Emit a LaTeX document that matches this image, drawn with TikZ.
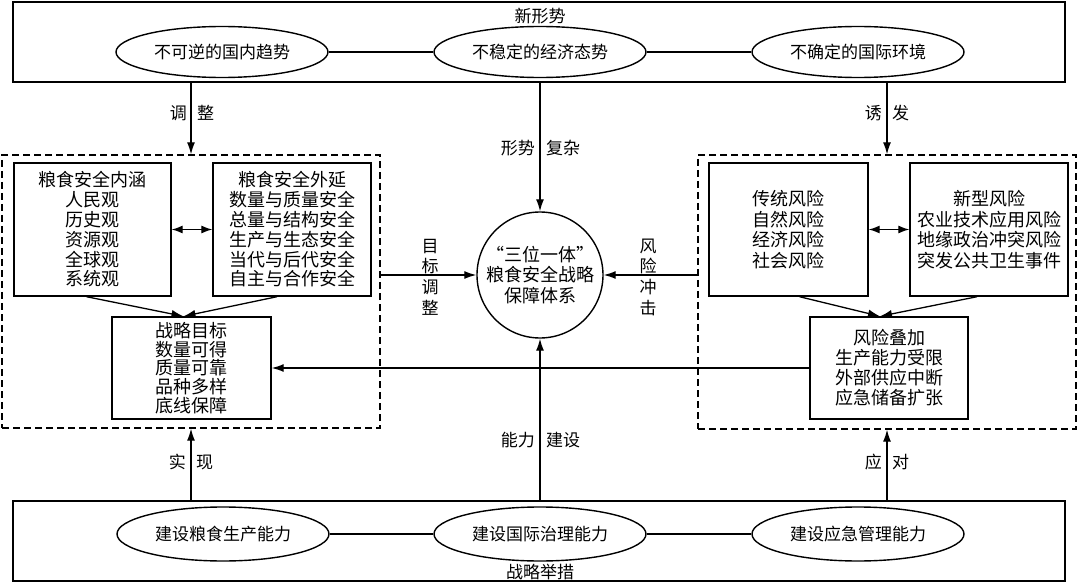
\documentclass[tikz,border=0pt]{standalone}
\usepackage{fontspec}
\setmainfont{Noto Sans CJK SC}
\usetikzlibrary{arrows.meta,shapes.geometric}
\begin{document}
\begin{tikzpicture}[x=1pt,y=-1pt,
  txt/.style={font=\fontsize{17}{20}\selectfont, inner sep=0pt},
  bigbox/.style={draw, line width=1.5pt, inner sep=0pt},
  dbox/.style={draw, line width=1.3pt, dash pattern=on 7pt off 4pt, inner sep=0pt},
  ibox/.style={draw, line width=1.4pt, inner sep=0pt, align=center, font=\fontsize{18}{19.8}\selectfont},
  ell/.style={draw, ellipse, line width=1.4pt, inner sep=0pt, minimum width=212pt, minimum height=51pt, font=\fontsize{17}{20}\selectfont},
  arr/.style={line width=1.3pt, -{Latex[length=12pt,width=8pt]}},
  darr/.style={line width=1.3pt, {Latex[length=11pt,width=8pt]}-{Latex[length=11pt,width=8pt]}},
  conn/.style={line width=1.4pt},
  vtxt/.style={align=center, inner sep=0pt, font=\fontsize{17}{20.7}\selectfont}]
\useasboundingbox (0,0) rectangle (1080,583);
% top box
\node[bigbox, minimum width=1052pt, minimum height=80pt] (topbox) at (539,42) {};
\node[txt] (toplbl) at (540,16) {新形势};
\node[ell] (e1) at (222,52) {不可逆的国内趋势};
\node[ell] (e2) at (540,52) {不稳定的经济态势};
\node[ell] (e3) at (858,52) {不确定的国际环境};
\draw[conn] (e1) -- (e2);
\draw[conn] (e2) -- (e3);
% bottom box
\node[bigbox, minimum width=1052pt, minimum height=80pt] (botbox) at (539,541) {};
\node[txt] (botlbl) at (540,572) {战略举措};
\node[ell, minimum height=54pt] (b1) at (223,534) {建设粮食生产能力};
\node[ell, minimum height=54pt] (b2) at (540,534) {建设国际治理能力};
\node[ell, minimum height=54pt] (b3) at (858,534) {建设应急管理能力};
\draw[conn] (b1) -- (b2);
\draw[conn] (b2) -- (b3);
% dashed regions
\node[dbox, minimum width=378pt, minimum height=273pt] (ldash) at (191,291.5) {};
\node[dbox, minimum width=378pt, minimum height=274pt] (rdash) at (887,292) {};
% left inner boxes
\node[ibox, minimum width=157pt, minimum height=133pt] (lb1) at (92.5,229.5)
  {粮食安全内涵\\人民观\\历史观\\资源观\\全球观\\系统观};
\node[ibox, minimum width=158pt, minimum height=133pt] (lb2) at (292,229.5)
  {粮食安全外延\\数量与质量安全\\总量与结构安全\\生产与生态安全\\当代与后代安全\\自主与合作安全};
\node[ibox, minimum width=159pt, minimum height=102pt, font=\fontsize{18}{18.6}\selectfont] (goal) at (191.5,368)
  {战略目标\\数量可得\\质量可靠\\品种多样\\底线保障};
\draw[darr] (lb1.east) -- (lb2.west);
\draw[arr] ([xshift=-6pt]lb1.south) -- ([xshift=-8pt]goal.north);
\draw[arr] ([xshift=-15pt]lb2.south) -- ([xshift=-8pt]goal.north);
% right inner boxes
\node[ibox, minimum width=159pt, minimum height=133pt, font=\fontsize{18}{20.5}\selectfont] (rb1) at (788.5,229.5)
  {传统风险\\自然风险\\经济风险\\社会风险};
\node[ibox, minimum width=158pt, minimum height=133pt, font=\fontsize{18}{20.5}\selectfont] (rb2) at (989,229.5)
  {新型风险\\农业技术应用风险\\地缘政治冲突风险\\突发公共卫生事件};
\node[ibox, minimum width=158pt, minimum height=102pt, font=\fontsize{18}{20}\selectfont] (risk) at (889,368)
  {风险叠加\\生产能力受限\\外部供应中断\\应急储备扩张};
\draw[darr] (rb1.east) -- (rb2.west);
\draw[arr] ([xshift=11pt]rb1.south) -- ([xshift=-9pt]risk.north);
\draw[arr] ([xshift=-12pt]rb2.south) -- ([xshift=-9pt]risk.north);
% central circle
\node[draw, circle, line width=1.4pt, minimum size=126pt, inner sep=0pt, align=center,
  font=\fontsize{18}{20.5}\selectfont] (circ) at (540,275)
  {“三位一体”\\粮食安全战略\\保障体系};
% connectors
\draw[arr] (ldash.north |- topbox.south) -- (ldash.north);
\draw[arr] (rdash.north |- topbox.south) -- (rdash.north);
\draw[arr] (circ.north |- topbox.south) -- (circ.north);
\draw[arr] (circ.south |- botbox.north) -- (circ.south);
\draw[arr] (ldash.south |- botbox.north) -- (ldash.south);
\draw[arr] (rdash.south |- botbox.north) -- (rdash.south);
\draw[arr] (circ.west -| ldash.east) -- (circ.west);
\draw[arr] (circ.east -| rdash.west) -- (circ.east);
\draw[arr] (risk.west) -- (goal.east);
% labels
\node[txt, anchor=east] (l1a) at (187,113) {调};
\node[txt, anchor=west] (l1b) at (197,113) {整};
\node[txt, anchor=east] (l2a) at (882,113) {诱};
\node[txt, anchor=west] (l2b) at (892,113) {发};
\node[txt, anchor=east] (l3a) at (535,148) {形势};
\node[txt, anchor=west] (l3b) at (546,148) {复杂};
\node[txt, anchor=east] (l4a) at (535,440) {能力};
\node[txt, anchor=west] (l4b) at (546,440) {建设};
\node[txt, anchor=east] (l5a) at (186,462) {实};
\node[txt, anchor=west] (l5b) at (196,462) {现};
\node[txt, anchor=east] (l6a) at (882,462) {应};
\node[txt, anchor=west] (l6b) at (892,462) {对};
\node[vtxt] (l7) at (430,277) {目\\标\\调\\整};
\node[vtxt] (l8) at (648,277) {风\\险\\冲\\击};
\end{tikzpicture}
\end{document}
